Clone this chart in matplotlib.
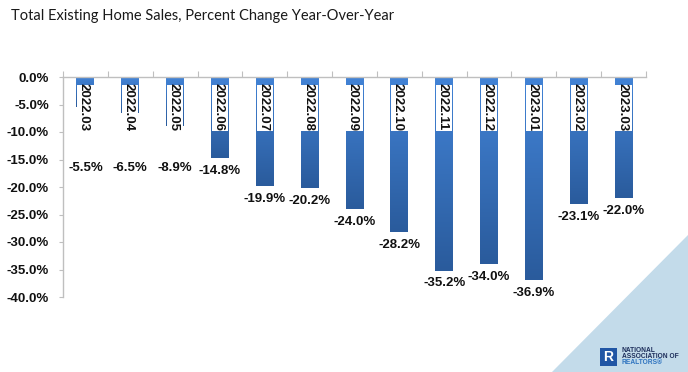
import matplotlib
matplotlib.use('Agg')
import matplotlib.pyplot as plt
import numpy as np
from matplotlib.patches import Rectangle, Polygon
from matplotlib.colors import LinearSegmentedColormap

months = ['2022.03', '2022.04', '2022.05', '2022.06', '2022.07', '2022.08', '2022.09',
          '2022.10', '2022.11', '2022.12', '2023.01', '2023.02', '2023.03']
values = [-5.5, -6.5, -8.9, -14.8, -19.9, -20.2, -24.0, -28.2, -35.2, -34.0, -36.9, -23.1, -22.0]
yticks = [0, -5, -10, -15, -20, -25, -30, -35, -40]
title = 'Total Existing Home Sales, Percent Change Year-Over-Year'

W, H = 688, 372
fig = plt.figure(figsize=(W / 100, H / 100), dpi=100)
fig.patch.set_facecolor('white')

def fx(px):
    return px / W

def fy(py):
    return 1 - py / H

# background triangle
tri = Polygon([(fx(688), fy(235)), (1, 0), (fx(552), 0)], closed=True,
              transform=fig.transFigure, facecolor='#c3dbea', edgecolor='none', zorder=0)
fig.patches.append(tri)

ax = fig.add_axes([fx(63), fy(297), (646 - 63) / W, (297 - 77) / H])
ax.patch.set_alpha(0)

x = np.arange(len(months))
bars = ax.bar(x, values, width=0.4, color='#3470bf', zorder=2)

cmap = LinearSegmentedColormap.from_list('g', ['#4283d6', '#2a5b9c'])
grad = np.linspace(0, 1, 256).reshape(-1, 1)
for b in bars:
    x0, w, h = b.get_x(), b.get_width(), b.get_height()
    im = ax.imshow(grad, aspect='auto', cmap=cmap, extent=(x0, x0 + w, h, 0),
                   origin='upper', zorder=2.1, interpolation='bilinear')
    im.set_clip_path(b)
    # white label box
    ax.add_patch(Rectangle((x0 + 0.018, -1.4), w - 0.036, max(h, -9.8) + 1.4,
                           facecolor='white', edgecolor='none', zorder=3))

for xi, m, v in zip(x, months, values):
    ax.text(xi, -5.4, m, rotation=270, rotation_mode='anchor', ha='center',
            va='center_baseline', fontsize=9.5, fontweight='bold', color='#111111',
            zorder=4, family='Liberation Sans')
    ax.text(xi, min(v - 2.3, -16.6), f'{v:.1f}%', ha='center', va='center',
            fontsize=9.5, fontweight='bold', color='#111111', clip_on=False,
            family='Liberation Sans')

ax.set_xlim(-0.5, len(months) - 0.5)
ax.set_ylim(-40, 0)

for s in ['right', 'bottom']:
    ax.spines[s].set_visible(False)
for s in ['top', 'left']:
    ax.spines[s].set_color('#bfbfbf')
    ax.spines[s].set_linewidth(1.0)

ax.xaxis.set_ticks_position('top')
ax.set_xticks(np.arange(-0.5, len(months), 1))
ax.set_xticklabels([])
ax.tick_params(axis='x', direction='out', length=4, color='#bfbfbf')

ax.set_yticks(yticks)
ax.set_yticklabels([f'{t:.1f}%' for t in yticks], fontsize=9.5, fontweight='bold',
                   family='Liberation Sans', color='#111111')
ax.tick_params(axis='y', direction='out', length=3, color='#bfbfbf', pad=7)

fig.text(fx(11), fy(16), title, fontsize=10.5, va='center', ha='left',
         family='Lato', color='#1a1a1a')

# logo
fig.patches.append(Rectangle((fx(600), fy(366)), fx(17), (366 - 348) / H,
                             transform=fig.transFigure, facecolor='#2156a5',
                             edgecolor='none', zorder=1))
fig.text(fx(608.5), fy(357), 'R', fontsize=10, fontweight='bold', color='white',
         ha='center', va='center', family='Liberation Sans', zorder=2)
fig.text(fx(622), fy(350), 'NATIONAL', fontsize=4.8, fontweight='bold', color='#1e2f5c',
         ha='left', va='center', family='Liberation Sans')
fig.text(fx(622), fy(356.5), 'ASSOCIATION OF', fontsize=4.8, fontweight='bold', color='#1e2f5c',
         ha='left', va='center', family='Liberation Sans')
fig.text(fx(622), fy(363), 'REALTORS®', fontsize=4.8, fontweight='bold', color='#2f74c0',
         ha='left', va='center', family='Liberation Sans')

fig.savefig('out.png', dpi=100)
